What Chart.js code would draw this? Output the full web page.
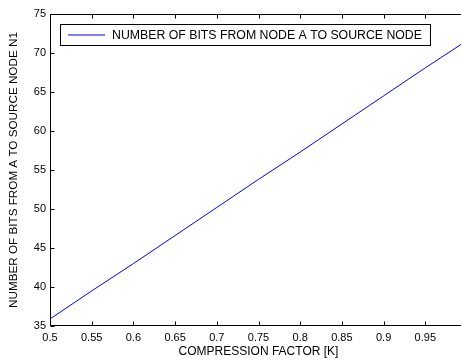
<!DOCTYPE html>
<html>
<head>
<meta charset="utf-8">
<script src="https://cdn.jsdelivr.net/npm/chart.js@4/dist/chart.umd.min.js"></script>
<style>
  html, body { margin: 0; padding: 0; background: #fff; overflow: hidden; }
  #wrap { width: 461px; height: 361px; overflow: hidden; }
</style>
</head>
<body>
<div id="wrap"><canvas id="myChart" width="467" height="361"></canvas></div>
<script>
// values
var compressionFactor = [0.5, 0.55, 0.6, 0.65, 0.7, 0.75, 0.8, 0.85, 0.9, 0.95, 1.0];
var bitsToSource = [35.9, 39.5, 43.0, 46.6, 50.2, 53.8, 57.3, 60.9, 64.5, 68.1, 71.6];
var seriesLabel = 'NUMBER OF BITS FROM NODE A TO SOURCE NODE';
var xTitle = 'COMPRESSION FACTOR [K]';
var yTitle = 'NUMBER OF BITS FROM A TO SOURCE NODE N1';

var fontFam = '"Liberation Sans", Arial, sans-serif';

var points = [];
for (var i = 0; i < compressionFactor.length; i++) {
  points.push({x: compressionFactor[i], y: bitsToSource[i]});
}

// matlab style box, inward ticks and legend
var matlabFrame = {
  id: 'matlabFrame',
  afterDraw: function(chart) {
    var ctx = chart.ctx;
    var a = chart.chartArea;
    var xs = chart.scales.x, ys = chart.scales.y;
    var L = Math.round(a.left) + 0.5, R = Math.round(a.right) - 0.5;
    var T = Math.round(a.top) + 0.5, B = Math.round(a.bottom) - 0.5;
    ctx.save();
    ctx.strokeStyle = '#000';
    ctx.lineWidth = 1;
    ctx.beginPath();
    ctx.rect(L, T, R - L, B - T);
    ctx.stroke();

    var tl = 4;
    ctx.beginPath();
    xs.ticks.forEach(function(t) {
      var px = Math.round(xs.getPixelForValue(t.value)) + 0.5;
      ctx.moveTo(px, B); ctx.lineTo(px, B - tl);
      ctx.moveTo(px, T); ctx.lineTo(px, T + tl);
    });
    ys.ticks.forEach(function(t) {
      var py = Math.round(ys.getPixelForValue(t.value)) + 0.5;
      ctx.moveTo(L, py); ctx.lineTo(L + tl, py);
      ctx.moveTo(R, py); ctx.lineTo(R - tl, py);
    });
    ctx.stroke();

    // legend box
    var bx = 60.5, by = 24.5, bw = 370, bh = 21;
    ctx.fillStyle = '#fff';
    ctx.fillRect(bx, by, bw, bh);
    ctx.strokeRect(bx, by, bw, bh);
    var cy = by + bh / 2;
    ctx.strokeStyle = '#0000ff';
    ctx.beginPath();
    ctx.moveTo(68, cy); ctx.lineTo(105, cy);
    ctx.stroke();
    ctx.fillStyle = '#000';
    ctx.font = '12.3px ' + fontFam;
    ctx.textBaseline = 'middle';
    ctx.textAlign = 'left';
    ctx.fillText(seriesLabel, 112, cy + 0.5);
    ctx.restore();
  }
};

const ctx = document.getElementById('myChart');
const myChart = new Chart(ctx, {
  type: 'line',
  data: {
    datasets: [{
      label: seriesLabel,
      data: points,
      borderColor: '#0000ff',
      borderWidth: 1,
      pointRadius: 0,
      fill: false,
      tension: 0
    }]
  },
  options: {
    responsive: false,
    animation: false,
    layout: { padding: { top: 14, right: 0, left: 0, bottom: 0 } },
    plugins: { legend: { display: false }, tooltip: { enabled: false } },
    scales: {
      x: {
        type: 'linear',
        min: 0.5,
        max: 1.0,
        grid: { display: false, drawTicks: false },
        border: { display: false },
        ticks: {
          stepSize: 0.05,
          color: '#000',
          padding: 5,
          maxRotation: 0,
          font: { family: fontFam, size: 11 },
          callback: function(v) { return String(Number(v.toFixed(2))); }
        },
        title: {
          display: true,
          text: xTitle,
          color: '#000',
          font: { family: fontFam, size: 12 },
          padding: { top: 0, bottom: 2 }
        },
        afterFit: function(scale) {
          scale.height = 35;
          scale.paddingLeft = 0;
          scale.paddingRight = 0;
        }
      },
      y: {
        min: 35,
        max: 75,
        grid: { display: false, drawTicks: false },
        border: { display: false },
        ticks: {
          stepSize: 5,
          color: '#000',
          padding: 4,
          font: { family: fontFam, size: 11 }
        },
        title: {
          display: true,
          text: yTitle,
          color: '#000',
          font: { family: fontFam, size: 11.7 },
          padding: { top: 7, bottom: 0 }
        },
        afterFit: function(scale) {
          scale.width = 50;
          scale.paddingTop = 0;
          scale.paddingBottom = 0;
        }
      }
    }
  },
  plugins: [matlabFrame]
});
</script>
</body>
</html>
